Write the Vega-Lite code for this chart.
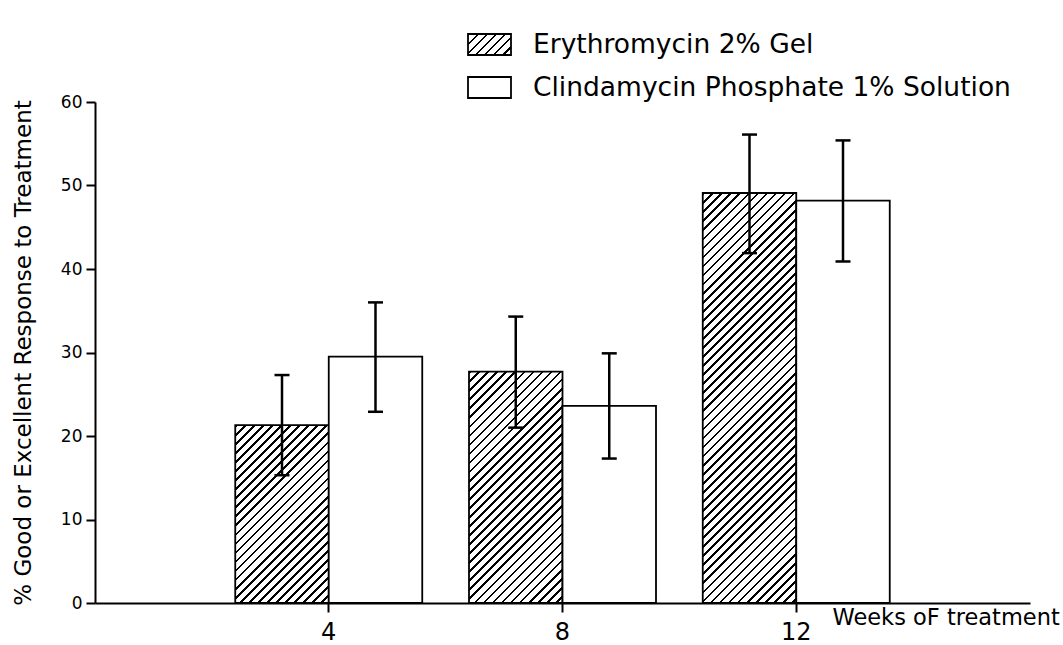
{
  "$schema": "https://vega.github.io/schema/vega-lite/v6.json",
  "autosize": "none",
  "width": 935,
  "height": 501,
  "padding": {"left": 95, "top": 102, "right": 33, "bottom": 42},
  "background": "white",
  "params": [
    {
      "name": "hatch",
      "value": [
        {"offset":0,"color":"#000"},{"offset":0.0048,"color":"#000"},{"offset":0.0048,"color":"#fff"},{"offset":0.016,"color":"#fff"},
        {"offset":0.016,"color":"#000"},{"offset":0.0208,"color":"#000"},{"offset":0.0208,"color":"#fff"},{"offset":0.032,"color":"#fff"},
        {"offset":0.032,"color":"#000"},{"offset":0.0368,"color":"#000"},{"offset":0.0368,"color":"#fff"},{"offset":0.048,"color":"#fff"},
        {"offset":0.048,"color":"#000"},{"offset":0.0528,"color":"#000"},{"offset":0.0528,"color":"#fff"},{"offset":0.064,"color":"#fff"},
        {"offset":0.064,"color":"#000"},{"offset":0.0688,"color":"#000"},{"offset":0.0688,"color":"#fff"},{"offset":0.08,"color":"#fff"},
        {"offset":0.08,"color":"#000"},{"offset":0.0848,"color":"#000"},{"offset":0.0848,"color":"#fff"},{"offset":0.096,"color":"#fff"},
        {"offset":0.096,"color":"#000"},{"offset":0.1008,"color":"#000"},{"offset":0.1008,"color":"#fff"},{"offset":0.112,"color":"#fff"},
        {"offset":0.112,"color":"#000"},{"offset":0.1168,"color":"#000"},{"offset":0.1168,"color":"#fff"},{"offset":0.128,"color":"#fff"},
        {"offset":0.128,"color":"#000"},{"offset":0.1328,"color":"#000"},{"offset":0.1328,"color":"#fff"},{"offset":0.144,"color":"#fff"},
        {"offset":0.144,"color":"#000"},{"offset":0.1488,"color":"#000"},{"offset":0.1488,"color":"#fff"},{"offset":0.16,"color":"#fff"},
        {"offset":0.16,"color":"#000"},{"offset":0.1648,"color":"#000"},{"offset":0.1648,"color":"#fff"},{"offset":0.176,"color":"#fff"},
        {"offset":0.176,"color":"#000"},{"offset":0.1808,"color":"#000"},{"offset":0.1808,"color":"#fff"},{"offset":0.192,"color":"#fff"},
        {"offset":0.192,"color":"#000"},{"offset":0.1968,"color":"#000"},{"offset":0.1968,"color":"#fff"},{"offset":0.208,"color":"#fff"},
        {"offset":0.208,"color":"#000"},{"offset":0.2128,"color":"#000"},{"offset":0.2128,"color":"#fff"},{"offset":0.224,"color":"#fff"},
        {"offset":0.224,"color":"#000"},{"offset":0.2288,"color":"#000"},{"offset":0.2288,"color":"#fff"},{"offset":0.24,"color":"#fff"},
        {"offset":0.24,"color":"#000"},{"offset":0.2448,"color":"#000"},{"offset":0.2448,"color":"#fff"},{"offset":0.256,"color":"#fff"},
        {"offset":0.256,"color":"#000"},{"offset":0.2608,"color":"#000"},{"offset":0.2608,"color":"#fff"},{"offset":0.272,"color":"#fff"},
        {"offset":0.272,"color":"#000"},{"offset":0.2768,"color":"#000"},{"offset":0.2768,"color":"#fff"},{"offset":0.288,"color":"#fff"},
        {"offset":0.288,"color":"#000"},{"offset":0.2928,"color":"#000"},{"offset":0.2928,"color":"#fff"},{"offset":0.304,"color":"#fff"},
        {"offset":0.304,"color":"#000"},{"offset":0.3088,"color":"#000"},{"offset":0.3088,"color":"#fff"},{"offset":0.32,"color":"#fff"},
        {"offset":0.32,"color":"#000"},{"offset":0.3248,"color":"#000"},{"offset":0.3248,"color":"#fff"},{"offset":0.336,"color":"#fff"},
        {"offset":0.336,"color":"#000"},{"offset":0.3408,"color":"#000"},{"offset":0.3408,"color":"#fff"},{"offset":0.352,"color":"#fff"},
        {"offset":0.352,"color":"#000"},{"offset":0.3568,"color":"#000"},{"offset":0.3568,"color":"#fff"},{"offset":0.368,"color":"#fff"},
        {"offset":0.368,"color":"#000"},{"offset":0.3728,"color":"#000"},{"offset":0.3728,"color":"#fff"},{"offset":0.384,"color":"#fff"},
        {"offset":0.384,"color":"#000"},{"offset":0.3888,"color":"#000"},{"offset":0.3888,"color":"#fff"},{"offset":0.4,"color":"#fff"},
        {"offset":0.4,"color":"#000"},{"offset":0.4048,"color":"#000"},{"offset":0.4048,"color":"#fff"},{"offset":0.416,"color":"#fff"},
        {"offset":0.416,"color":"#000"},{"offset":0.4208,"color":"#000"},{"offset":0.4208,"color":"#fff"},{"offset":0.432,"color":"#fff"},
        {"offset":0.432,"color":"#000"},{"offset":0.4368,"color":"#000"},{"offset":0.4368,"color":"#fff"},{"offset":0.448,"color":"#fff"},
        {"offset":0.448,"color":"#000"},{"offset":0.4528,"color":"#000"},{"offset":0.4528,"color":"#fff"},{"offset":0.464,"color":"#fff"},
        {"offset":0.464,"color":"#000"},{"offset":0.4688,"color":"#000"},{"offset":0.4688,"color":"#fff"},{"offset":0.48,"color":"#fff"},
        {"offset":0.48,"color":"#000"},{"offset":0.4848,"color":"#000"},{"offset":0.4848,"color":"#fff"},{"offset":0.496,"color":"#fff"},
        {"offset":0.496,"color":"#000"},{"offset":0.5008,"color":"#000"},{"offset":0.5008,"color":"#fff"},{"offset":0.512,"color":"#fff"},
        {"offset":0.512,"color":"#000"},{"offset":0.5168,"color":"#000"},{"offset":0.5168,"color":"#fff"},{"offset":0.528,"color":"#fff"},
        {"offset":0.528,"color":"#000"},{"offset":0.5328,"color":"#000"},{"offset":0.5328,"color":"#fff"},{"offset":0.544,"color":"#fff"},
        {"offset":0.544,"color":"#000"},{"offset":0.5488,"color":"#000"},{"offset":0.5488,"color":"#fff"},{"offset":0.56,"color":"#fff"},
        {"offset":0.56,"color":"#000"},{"offset":0.5648,"color":"#000"},{"offset":0.5648,"color":"#fff"},{"offset":0.576,"color":"#fff"},
        {"offset":0.576,"color":"#000"},{"offset":0.5808,"color":"#000"},{"offset":0.5808,"color":"#fff"},{"offset":0.592,"color":"#fff"},
        {"offset":0.592,"color":"#000"},{"offset":0.5968,"color":"#000"},{"offset":0.5968,"color":"#fff"},{"offset":0.608,"color":"#fff"},
        {"offset":0.608,"color":"#000"},{"offset":0.6128,"color":"#000"},{"offset":0.6128,"color":"#fff"},{"offset":0.624,"color":"#fff"},
        {"offset":0.624,"color":"#000"},{"offset":0.6288,"color":"#000"},{"offset":0.6288,"color":"#fff"},{"offset":0.64,"color":"#fff"},
        {"offset":0.64,"color":"#000"},{"offset":0.6448,"color":"#000"},{"offset":0.6448,"color":"#fff"},{"offset":0.656,"color":"#fff"},
        {"offset":0.656,"color":"#000"},{"offset":0.6608,"color":"#000"},{"offset":0.6608,"color":"#fff"},{"offset":0.672,"color":"#fff"},
        {"offset":0.672,"color":"#000"},{"offset":0.6768,"color":"#000"},{"offset":0.6768,"color":"#fff"},{"offset":0.688,"color":"#fff"},
        {"offset":0.688,"color":"#000"},{"offset":0.6928,"color":"#000"},{"offset":0.6928,"color":"#fff"},{"offset":0.704,"color":"#fff"},
        {"offset":0.704,"color":"#000"},{"offset":0.7088,"color":"#000"},{"offset":0.7088,"color":"#fff"},{"offset":0.72,"color":"#fff"},
        {"offset":0.72,"color":"#000"},{"offset":0.7248,"color":"#000"},{"offset":0.7248,"color":"#fff"},{"offset":0.736,"color":"#fff"},
        {"offset":0.736,"color":"#000"},{"offset":0.7408,"color":"#000"},{"offset":0.7408,"color":"#fff"},{"offset":0.752,"color":"#fff"},
        {"offset":0.752,"color":"#000"},{"offset":0.7568,"color":"#000"},{"offset":0.7568,"color":"#fff"},{"offset":0.768,"color":"#fff"},
        {"offset":0.768,"color":"#000"},{"offset":0.7728,"color":"#000"},{"offset":0.7728,"color":"#fff"},{"offset":0.784,"color":"#fff"},
        {"offset":0.784,"color":"#000"},{"offset":0.7888,"color":"#000"},{"offset":0.7888,"color":"#fff"},{"offset":0.8,"color":"#fff"},
        {"offset":0.8,"color":"#000"},{"offset":0.8048,"color":"#000"},{"offset":0.8048,"color":"#fff"},{"offset":0.816,"color":"#fff"},
        {"offset":0.816,"color":"#000"},{"offset":0.8208,"color":"#000"},{"offset":0.8208,"color":"#fff"},{"offset":0.832,"color":"#fff"},
        {"offset":0.832,"color":"#000"},{"offset":0.8368,"color":"#000"},{"offset":0.8368,"color":"#fff"},{"offset":0.848,"color":"#fff"},
        {"offset":0.848,"color":"#000"},{"offset":0.8528,"color":"#000"},{"offset":0.8528,"color":"#fff"},{"offset":0.864,"color":"#fff"},
        {"offset":0.864,"color":"#000"},{"offset":0.8688,"color":"#000"},{"offset":0.8688,"color":"#fff"},{"offset":0.88,"color":"#fff"},
        {"offset":0.88,"color":"#000"},{"offset":0.8848,"color":"#000"},{"offset":0.8848,"color":"#fff"},{"offset":0.896,"color":"#fff"},
        {"offset":0.896,"color":"#000"},{"offset":0.9008,"color":"#000"},{"offset":0.9008,"color":"#fff"},{"offset":0.912,"color":"#fff"},
        {"offset":1,"color":"#fff"}
      ]
    }
  ],
  "data": {
    "values": [
      {"week": "4", "drug": "Erythromycin 2% Gel", "value": 21.3, "low": 15.3, "high": 27.3},
      {"week": "4", "drug": "Clindamycin Phosphate 1% Solution", "value": 29.5, "low": 22.9, "high": 36.0},
      {"week": "8", "drug": "Erythromycin 2% Gel", "value": 27.7, "low": 21.0, "high": 34.3},
      {"week": "8", "drug": "Clindamycin Phosphate 1% Solution", "value": 23.6, "low": 17.3, "high": 29.9},
      {"week": "12", "drug": "Erythromycin 2% Gel", "value": 49.1, "low": 41.9, "high": 56.1},
      {"week": "12", "drug": "Clindamycin Phosphate 1% Solution", "value": 48.2, "low": 40.9, "high": 55.4}
    ]
  },
  "config": {
    "view": {"stroke": null},
    "font": "DejaVu Sans",
    "axis": {
      "labelColor": "black",
      "titleColor": "black",
      "domainColor": "black",
      "tickColor": "black",
      "domainWidth": 2,
      "tickWidth": 2,
      "grid": false,
      "labelFont": "DejaVu Sans",
      "titleFont": "DejaVu Sans",
      "titleFontWeight": "normal"
    },
    "axisY": {
      "tickSize": 9,
      "labelPadding": 4,
      "labelFontSize": 17,
      "titleFontSize": 23,
      "titlePadding": 25
    },
    "legend": {
      "labelFont": "DejaVu Sans",
      "labelColor": "black"
    }
  },
  "encoding": {
    "x": {
      "field": "week",
      "type": "ordinal",
      "sort": ["4", "8", "12"],
      "scale": {"paddingInner": 0.2, "paddingOuter": 0.6},
      "axis": {
        "labelAngle": 0,
        "labelFontSize": 24,
        "labelPadding": 8,
        "tickSize": 9,
        "title": "Weeks oF treatment",
        "titleFontSize": 22.5,
        "titleX": 737,
        "titleY": 14,
        "titleAlign": "left",
        "titleBaseline": "middle",
        "titleAngle": 0
      }
    },
    "xOffset": {
      "field": "drug",
      "type": "nominal",
      "sort": ["Erythromycin 2% Gel", "Clindamycin Phosphate 1% Solution"],
      "scale": {"paddingInner": 0, "paddingOuter": 0}
    }
  },
  "layer": [
    {
      "mark": {"type": "bar", "stroke": "black", "strokeWidth": 1.8},
      "encoding": {
        "y": {
          "field": "value",
          "type": "quantitative",
          "scale": {"domain": [0, 60], "nice": false},
          "axis": {"values": [0, 10, 20, 30, 40, 50, 60], "title": "% Good or Excellent Response to Treatment"}
        },
        "fill": {
          "field": "drug",
          "type": "nominal",
          "sort": ["Erythromycin 2% Gel", "Clindamycin Phosphate 1% Solution"],
          "condition": [
            {
              "test": "datum.drug === 'Erythromycin 2% Gel'",
              "value": {"expr": "{gradient:'linear',x1:0,y1:0,x2:565.685*bandwidth('xOffset')/(pow(bandwidth('xOffset'),2)+pow(scale('y',0)-scale('y',datum.value),2)),y2:565.685*(scale('y',0)-scale('y',datum.value))/(pow(bandwidth('xOffset'),2)+pow(scale('y',0)-scale('y',datum.value),2)),stops:hatch}"}
            }
          ],
          "scale": {
            "domain": ["Erythromycin 2% Gel", "Clindamycin Phosphate 1% Solution"],
            "range": [{"expr": "{gradient:'linear',x1:0,y1:0,x2:10.62,y2:5.19,stops:hatch}"}, "#ffffff"]
          },
          "legend": {
            "orient": "none",
            "legendX": 372,
            "legendY": -80,
            "title": null,
            "padding": 0,
            "symbolType": "M-1,-0.488H1V0.488H-1Z",
            "symbolSize": 1849,
            "symbolStrokeColor": "black",
            "symbolStrokeWidth": 1.8,
            "symbolOpacity": 1,
            "labelFontSize": 26.5,
            "labelOffset": 21,
            "labelLimit": 700,
            "rowPadding": 6
          }
        }
      }
    },
    {
      "mark": {"type": "rule", "strokeWidth": 2.5, "color": "black"},
      "encoding": {
        "y": {"field": "low", "type": "quantitative", "axis": {"values": [0, 10, 20, 30, 40, 50, 60], "title": "% Good or Excellent Response to Treatment"}},
        "y2": {"field": "high"}
      }
    },
    {
      "mark": {"type": "tick", "orient": "horizontal", "size": 15, "thickness": 2.5, "color": "black", "opacity": 1},
      "encoding": {
        "y": {"field": "low", "type": "quantitative", "axis": {"values": [0, 10, 20, 30, 40, 50, 60], "title": "% Good or Excellent Response to Treatment"}}
      }
    },
    {
      "mark": {"type": "tick", "orient": "horizontal", "size": 15, "thickness": 2.5, "color": "black", "opacity": 1},
      "encoding": {
        "y": {"field": "high", "type": "quantitative", "axis": {"values": [0, 10, 20, 30, 40, 50, 60], "title": "% Good or Excellent Response to Treatment"}}
      }
    }
  ]
}
